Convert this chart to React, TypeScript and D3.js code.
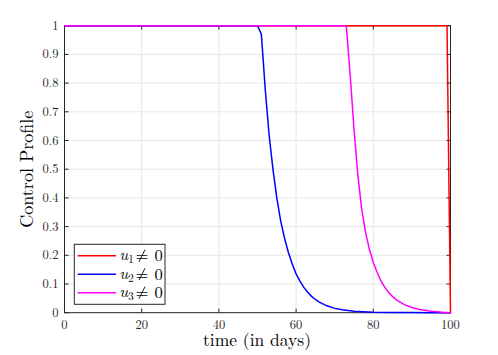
import * as d3 from 'd3';

// u1: red, switches off right at the end
const u1Days = [0, 99.1, 100];
const u1Vals = [1, 1, 0];

// u2: blue, decays after day 50
const u2Days = [0, 50, 51, 52, 53, 54, 55, 56, 57, 58, 59, 60, 61, 62, 63, 64, 65, 66, 68, 70, 72, 75, 80, 85, 90, 95, 100];
const u2Vals = [1, 1, 0.97, 0.78, 0.62, 0.5, 0.4, 0.32, 0.26, 0.21, 0.17, 0.135, 0.11, 0.088, 0.071, 0.057, 0.046, 0.037, 0.024, 0.015, 0.01, 0.005, 0.002, 0.001, 0.0003, 0.0001, 0];

// u3: magenta, decays after day 73
const u3Days = [0, 73, 74, 75, 76, 77, 78, 79, 80, 81, 82, 83, 84, 85, 86, 88, 90, 92, 95, 98, 100];
const u3Vals = [1, 1, 0.83, 0.64, 0.48, 0.36, 0.28, 0.22, 0.175, 0.14, 0.11, 0.088, 0.07, 0.056, 0.045, 0.028, 0.018, 0.011, 0.005, 0.0015, 0];

const xTicks = [0, 20, 40, 60, 80, 100];
const yTicks = [0, 0.1, 0.2, 0.3, 0.4, 0.5, 0.6, 0.7, 0.8, 0.9, 1];

const seriesNames = ['1', '2', '3'];
const seriesColors = ['#ff0000', '#0000ff', '#ff00ff'];

const font = { fontFamily: 'Latin Modern Roman' };

export default function App() {
  const left = 64.5, right = 450.5, top = 25.7, bottom = 312.7;
  const x = d3.scaleLinear().domain([0, 100]).range([left, right]);
  const y = d3.scaleLinear().domain([0, 1]).range([bottom, top]);

  const line = d3.line<[number, number]>()
    .x(d => x(d[0]))
    .y(d => y(d[1]));

  const series = [
    u1Days.map((t, i) => [t, u1Vals[i]] as [number, number]),
    u2Days.map((t, i) => [t, u2Vals[i]] as [number, number]),
    u3Days.map((t, i) => [t, u3Vals[i]] as [number, number]),
  ];

  const axisColor = '#262626';
  const tickLen = 4;

  return (
    <svg width={498} height={355} style={{ position: 'absolute', left: 0, top: 0, background: '#fff' }}>
      <rect x={0} y={0} width={498} height={355} fill="#fff" />
      {/* grid */}
      {xTicks.map(t => (
        <line key={'gx' + t} x1={x(t)} x2={x(t)} y1={top} y2={bottom} stroke="#e6e6e6" strokeWidth={1} />
      ))}
      {yTicks.map(t => (
        <line key={'gy' + t} x1={left} x2={right} y1={y(t)} y2={y(t)} stroke="#e6e6e6" strokeWidth={1} />
      ))}
      {/* box */}
      <rect x={left} y={top} width={right - left} height={bottom - top} fill="none" stroke={axisColor} strokeWidth={1} />
      {xTicks.map(t => (
        <g key={'tx' + t}>
          <line x1={x(t)} x2={x(t)} y1={bottom} y2={bottom - tickLen} stroke={axisColor} />
          <line x1={x(t)} x2={x(t)} y1={top} y2={top + tickLen} stroke={axisColor} />
          <text x={x(t)} y={bottom + 16.5} textAnchor="middle" style={font} fontSize={12.5} fill="#262626">{t}</text>
        </g>
      ))}
      {yTicks.map(t => (
        <g key={'ty' + t}>
          <line x1={left} x2={left + tickLen} y1={y(t)} y2={y(t)} stroke={axisColor} />
          <line x1={right} x2={right - tickLen} y1={y(t)} y2={y(t)} stroke={axisColor} />
          <text x={left - 6} y={y(t) + 4} textAnchor="end" style={font} fontSize={12.5} fill="#262626">{t}</text>
        </g>
      ))}
      {/* curves */}
      {series.map((s, i) => (
        <path key={'s' + i} d={line(s) || ''} fill="none" stroke={seriesColors[i]} strokeWidth={1.5} />
      ))}
      {/* labels */}
      <text x={257} y={346} textAnchor="middle" style={font} fontSize={17.5} fill="#000">time (in days)</text>
      <text transform={`translate(33,${(top + bottom) / 2}) rotate(-90)`} textAnchor="middle" style={font} fontSize={18} fill="#000">Control Profile</text>
      {/* legend */}
      <rect x={74.3} y={244.3} width={90.7} height={60} fill="#fff" stroke={axisColor} strokeWidth={1} />
      {seriesNames.map((n, i) => {
        const ly = 255.7 + i * 18.5;
        return (
          <g key={'l' + i} style={font} fill="#000">
            <line x1={77.7} x2={116} y1={ly} y2={ly} stroke={seriesColors[i]} strokeWidth={1.5} />
            <text x={119.3} y={ly + 4.5} fontSize={16.5} fontStyle="italic">u</text>
            <text x={128.3} y={ly + 7.5} fontSize={11}>{n}</text>
            <text x={135.5} y={ly + 5.5} fontSize={16.5}>=</text>
            <line x1={145} x2={139} y1={ly - 6} y2={ly + 6} stroke="#000" strokeWidth={0.9} />
            <text x={154.5} y={ly + 5.5} fontSize={16.5}>0</text>
          </g>
        );
      })}
    </svg>
  );
}
